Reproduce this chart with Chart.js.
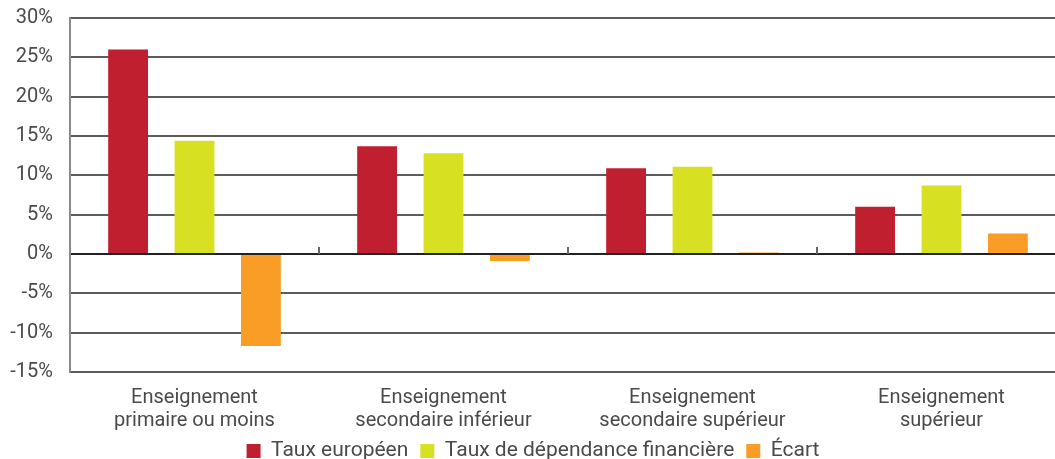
<!DOCTYPE html>
<html>
<head>
<meta charset="utf-8">
<script src="https://cdn.jsdelivr.net/npm/chart.js@4/dist/chart.umd.min.js"></script>
<style>
  html, body { margin: 0; padding: 0; background: #fff; overflow: hidden; }
  #wrap { position: absolute; left: 0; top: 0; width: 1076px; height: 459px; }
</style>
</head>
<body>
<div id="wrap"><canvas id="c"></canvas></div>
<script>
const categories = [
  ["Enseignement", "primaire ou moins"],
  ["Enseignement", "secondaire inférieur"],
  ["Enseignement", "secondaire supérieur"],
  ["Enseignement", "supérieur"]
];
const seriesNames = ["Taux européen", "Taux de dépendance financière", "Écart"];
const tauxEuropeen = [26.0, 13.7, 10.9, 6.0];
const tauxDependance = [14.4, 12.8, 11.1, 8.7];
const ecart = [-11.7, -0.9, 0.2, 2.6];
const yTicks = [-15, -10, -5, 0, 5, 10, 15, 20, 25, 30];

const colors = ["#C01F30", "#D7E021", "#F99D27"];
const textColor = "#4a4a4a";
const fontFamily = "Roboto, 'Liberation Sans', sans-serif";
const legendCenterY = 450;

const categoryTicks = {
  id: 'categoryTicks',
  afterLayout(chart) {
    const l = chart.legend;
    if (!l) return;
    const h = l.bottom - l.top;
    l.top = legendCenterY - h / 2;
    l.bottom = l.top + h;
  },
  afterDatasetsDraw(chart) {
    const x = chart.scales.x, y = chart.scales.y;
    const y0 = y.getPixelForValue(0);
    const ctx = chart.ctx;
    ctx.save();
    ctx.strokeStyle = '#666';
    ctx.lineWidth = 2;
    for (let i = 1; i < categories.length; i++) {
      const px = Math.round((x.getPixelForValue(i - 1) + x.getPixelForValue(i)) / 2);
      ctx.beginPath();
      ctx.moveTo(px, y0 - 7);
      ctx.lineTo(px, y0);
      ctx.stroke();
    }
    ctx.restore();
  }
};

new Chart(document.getElementById('c'), {
  type: 'bar',
  data: {
    labels: categories,
    datasets: [
      { label: seriesNames[0], data: tauxEuropeen, backgroundColor: colors[0] },
      { label: seriesNames[1], data: tauxDependance, backgroundColor: colors[1] },
      { label: seriesNames[2], data: ecart, backgroundColor: colors[2] }
    ]
  },
  plugins: [categoryTicks],
  options: {
    responsive: true,
    maintainAspectRatio: false,
    animation: false,
    layout: { padding: { top: 18, right: 10, left: 0, bottom: -22 } },
    datasets: { bar: { categoryPercentage: 0.8, barPercentage: 0.6 } },
    plugins: {
      tooltip: { enabled: false },
      legend: {
        position: 'bottom',
        labels: {
          boxWidth: 14, boxHeight: 14, padding: 12,
          color: textColor,
          font: { family: fontFamily, size: 21 }
        }
      }
    },
    scales: {
      x: {
        grid: { display: false },
        border: { display: false },
        afterFit(scale) { scale.height = 66; },
        ticks: {
          color: textColor, maxRotation: 0, padding: 6,
          font: { family: fontFamily, size: 20, lineHeight: 1.15 }
        }
      },
      y: {
        min: yTicks[0], max: yTicks[yTicks.length - 1],
        afterFit(scale) { scale.width = 70; scale.paddingTop = 0; scale.paddingBottom = 0; },
        afterBuildTicks(scale) { scale.ticks = yTicks.map(v => ({ value: v })); },
        border: { display: true, color: '#8a8a8a', width: 2 },
        grid: {
          drawTicks: false,
          color: ctx => ctx.tick && ctx.tick.value === 0 ? '#222' : '#5c5c5c',
          lineWidth: 2
        },
        ticks: {
          color: textColor, padding: 17,
          font: { family: fontFamily, size: 20 },
          callback: v => v + '%'
        }
      }
    }
  }
});
</script>
</body>
</html>
